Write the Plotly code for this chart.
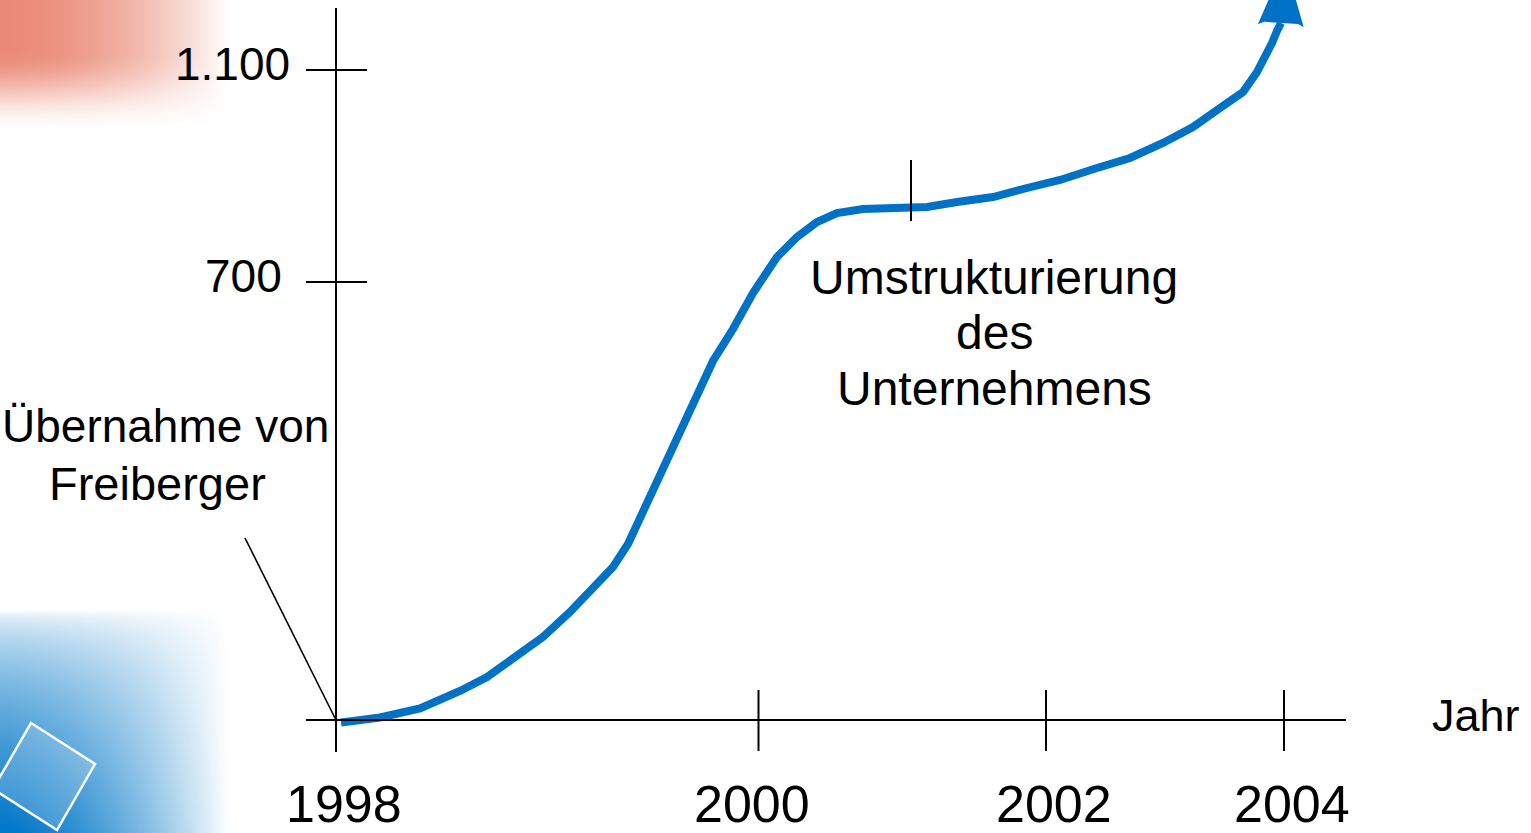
import numpy as np
import plotly.graph_objects as go

W, H = 1531, 833

# ---------------- data (schematic axis units: the original axes are not linear) -------------
year_labels = ["1998", "2000", "2002", "2004"]
year_pos = [0, 422.5, 710, 948]

value_labels = ["700", "1.100"]
value_pos = [438, 650]

axis_title_x = "Jahr"

curve_x = [5, 24, 44, 84, 124, 151, 177, 207, 234, 257, 277, 292, 307, 331, 354, 377, 397,
           417, 441, 461, 481, 501, 527, 554, 574, 591, 621, 657, 691, 724, 761, 794, 827,
           857, 884, 907, 921, 930, 936, 941, 945]
curve_y = [-2.5, -1, 2.5, 11.5, 29, 43, 62, 83, 108, 132, 153, 176, 209, 257, 308, 359, 391,
           427, 463, 483, 498, 507, 511, 511, 512, 513, 518, 523, 532, 540, 552, 562, 577,
           593, 612, 628, 648, 664, 677, 689, 697]
arrow_tip_x = 949
arrow_tip_y = 758

event1_lines = ["Übernahme von", "Freiberger"]
event1_x = 0          # 1998
event2_lines = ["Umstrukturierung", "des", "Unternehmens"]
event2_x = 575

# ---------------- style ----------------
FONT = "Liberation Sans, Arial, Helvetica, sans-serif"
BLUE = "rgb(0,114,198)"
X_RANGE = [-336, W - 336]
Y_RANGE = [720 - H, 720]


def px2x(p):
    return np.asarray(p, dtype=float) - 336


def py2y(p):
    return 720 - np.asarray(p, dtype=float)


fig = go.Figure()

# decorative corner gradients (background ornament of the slide)
gx = np.linspace(0, 240, 70)
gy = np.linspace(0, 145, 45)
fx = np.clip(1 - (gx / 228) ** 1.8, 0, 1)
tt = np.clip((gy - 50) / 82, 0, 1)
fy = 1 - tt * tt * (3 - 2 * tt)
fig.add_trace(go.Heatmap(x=px2x(gx), y=py2y(gy), z=np.outer(fy, fx), zmin=0, zmax=1,
                         zsmooth="best", showscale=False, hoverinfo="skip",
                         colorscale=[[0, "rgb(255,255,255)"], [1, "rgb(234,138,118)"]]))

bx = np.linspace(0, 240, 70)
by = np.linspace(595, 840, 70)
bfx = np.clip(1 - (bx / 228) ** 1.5, 0, 1)
bfy = np.clip((by - 610) / 221, 0, 1) ** 0.6
fig.add_trace(go.Heatmap(x=px2x(bx), y=py2y(by), z=np.outer(bfy, bfx), zmin=0, zmax=1,
                         zsmooth="best", showscale=False, hoverinfo="skip",
                         colorscale=[[0, "rgb(255,255,255)"], [1, "rgb(0,118,200)"]]))

# main curve
fig.add_trace(go.Scatter(x=curve_x, y=curve_y, mode="lines",
                         line=dict(color=BLUE, width=8), hoverinfo="skip"))

# arrow head: triangle built from the curve's last point and the arrow tip
d = np.array([arrow_tip_x - curve_x[-1], arrow_tip_y - curve_y[-1]], dtype=float)
d /= np.linalg.norm(d)
nrm = np.array([-d[1], d[0]])
tip = np.array([arrow_tip_x, arrow_tip_y], dtype=float)
base = tip - 64 * d
c1 = base + 23 * nrm
c2 = base - 23 * nrm
n1 = base + 3 * d + 17 * nrm
n2 = base + 3 * d - 17 * nrm
head = [c1, n1, n2, c2, tip, c1]
fig.add_trace(go.Scatter(x=[p[0] for p in head], y=[p[1] for p in head], mode="lines",
                         fill="toself", fillcolor=BLUE, line=dict(width=0, color=BLUE),
                         hoverinfo="skip"))

shapes = []
LINE = dict(color="black", width=2)
# axes
shapes.append(dict(type="line", xref="x", yref="y", x0=year_pos[0], x1=year_pos[0],
                   y0=-32, y1=712, line=LINE))
shapes.append(dict(type="line", xref="x", yref="y", x0=-30, x1=1010, y0=0, y1=0, line=LINE))
# y ticks (crossing the axis)
for v in value_pos:
    shapes.append(dict(type="line", xref="x", yref="y", x0=-30, x1=31, y0=v, y1=v, line=LINE))
# x ticks
for p in year_pos[1:]:
    shapes.append(dict(type="line", xref="x", yref="y", x0=p, x1=p, y0=-31, y1=30, line=LINE))
# event markers
shapes.append(dict(type="line", xref="x", yref="y", x0=event1_x - 91, y0=182,
                   x1=event1_x, y1=0, line=dict(color="black", width=1.6)))
shapes.append(dict(type="line", xref="x", yref="y", x0=event2_x, x1=event2_x,
                   y0=499, y1=560, line=LINE))
# decorative square in lower-left corner
sq = [(31, 723), (95, 764), (57, 830), (-7, 789)]
path = "M " + " L ".join(f"{px2x(a):.1f},{py2y(b):.1f}" for a, b in sq) + " Z"
shapes.append(dict(type="path", xref="x", yref="y", path=path,
                   fillcolor="rgba(255,255,255,0.18)", line=dict(color="white", width=2.5)))

ann = []
# y tick labels
y_lab_right = [-52, -44]
for lab, v, xr in zip(value_labels, value_pos, y_lab_right):
    ann.append(dict(x=xr, y=v + 6, xref="x", yref="y", text=lab, showarrow=False,
                    xanchor="right", yanchor="middle", font=dict(size=46, family=FONT, color="black")))
# x tick labels
dx = [8, -7, 8, 8]
for lab, p, dd in zip(year_labels, year_pos, dx):
    ann.append(dict(x=p + dd, y=-84, xref="x", yref="y", text=lab, showarrow=False,
                    xanchor="center", yanchor="middle", font=dict(size=52, family=FONT, color="black")))
ann.append(dict(x=1094, y=5, xref="x", yref="y", text=axis_title_x, showarrow=False,
                xanchor="left", yanchor="middle", font=dict(size=45, family=FONT, color="black")))
# event texts
ev1_cx = [-171, -179]
ev1_fs = [46, 47]
for i, line_txt in enumerate(event1_lines):
    ann.append(dict(x=event1_x + ev1_cx[i], y=294 - 57 * i, xref="x", yref="y", text=line_txt,
                    showarrow=False, xanchor="center", yanchor="middle",
                    font=dict(size=ev1_fs[i], family=FONT, color="black")))
for i, line_txt in enumerate(event2_lines):
    ann.append(dict(x=event2_x + 83, y=443 - 55.5 * i, xref="x", yref="y", text=line_txt,
                    showarrow=False, xanchor="center", yanchor="middle",
                    font=dict(size=48, family=FONT, color="black")))

fig.update_layout(
    width=W, height=H, margin=dict(l=0, r=0, t=0, b=0, pad=0),
    paper_bgcolor="white", plot_bgcolor="white", showlegend=False,
    xaxis=dict(range=X_RANGE, visible=False, fixedrange=True),
    yaxis=dict(range=Y_RANGE, visible=False, fixedrange=True),
    shapes=shapes, annotations=ann, font=dict(family=FONT),
)

fig.write_html("out.html", config={"displayModeBar": False},
               post_script="document.body.style.margin='0';document.body.style.overflow='hidden';")
